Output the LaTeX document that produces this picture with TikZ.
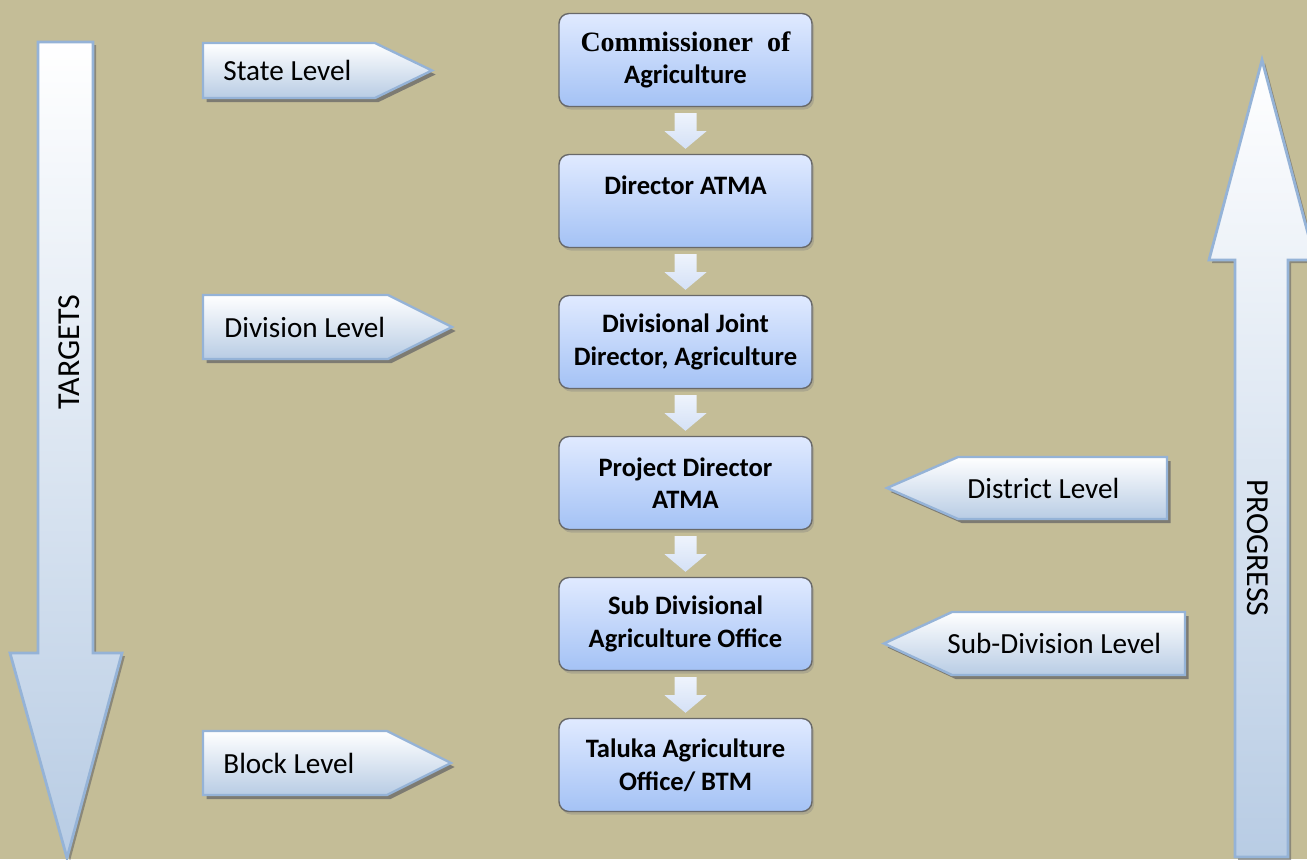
\documentclass[tikz,border=0pt]{standalone}
\usepackage{fontspec}
\setmainfont{Carlito}
\newfontfamily\serifbold{Liberation Serif}
\usepackage{tikz}
\usetikzlibrary{positioning,shadows,calc}

\definecolor{bgtan}{RGB}{196,189,151}
\definecolor{tagline}{RGB}{149,179,215}
\definecolor{tagblue}{RGB}{184,204,228}
\definecolor{boxtop}{RGB}{224,234,255}
\definecolor{boxbottom}{RGB}{164,194,245}
\definecolor{boxline}{RGB}{105,105,105}
\definecolor{flowlight}{RGB}{238,243,252}
\definecolor{flowblue}{RGB}{212,225,246}

\begin{document}
\begin{tikzpicture}[
    x=0.5pt, y=-0.5pt,
    node distance=70.5pt,
    office/.style={
		rectangle,
		rounded corners=5pt,
		draw=boxline,
		line width=0.7pt,
		top color=boxtop,
		bottom color=boxbottom,
		drop shadow={shadow xshift=1pt, shadow yshift=-1.5pt, opacity=0.35},
		minimum width=126.5pt,
		minimum height=46.5pt,
		inner sep=0pt,
		align=center,
		font=\fontsize{13.3}{16.3}\selectfont\bfseries
	},
	tagshape/.style={
		draw=tagline,
		line width=1.2pt,
		top color=white,
		bottom color=tagblue,
		drop shadow={shadow xshift=1.8pt, shadow yshift=-2pt, opacity=0.75, fill=black!60}
	},
	taglabel/.style={
		anchor=west,
		inner sep=0pt,
		font=\fontsize{14.6}{17}\selectfont
	},
	bigarrow/.style={
		draw=tagline,
		line width=1.4pt,
		top color=white,
		bottom color=tagblue,
		drop shadow={shadow xshift=1.5pt, shadow yshift=-1.5pt, opacity=0.6, fill=black!60}
	},
	bigtext/.style={
		inner sep=0pt,
		font=\fontsize{16}{18}\selectfont
	},
	flowarrow/.style={
		top color=flowlight,
		bottom color=flowblue
	}
  ]
  \fill[bgtan] (0,0) rectangle (1307,859);
  \useasboundingbox (0,0) rectangle (1307,859);
  \clip (0,0) rectangle (1307,859);

  % the two big arrows at the sides
  \path[bigarrow] (38,42) -- (93,42) -- (93,653) -- (122,653) -- (67,858)
    -- (10,653) -- (38,653) -- cycle;
  \path[bigarrow] (1262,60) -- (1315,260) -- (1288,260) -- (1288,857)
    -- (1235,857) -- (1235,260) -- (1209,260) -- cycle;
  \node [bigtext, rotate=90] (targets) at (69,352) {TARGETS};
  \node [bigtext, rotate=-90] (progress) at (1258,548) {PROGRESS};

  % We start by placing the blocks
  \node [office] (commissioner) at (685.5,60)
    {\serifbold\fontsize{14}{14.5}\selectfont Commissioner\ \ of\\Agriculture};
  \node [office, below of=commissioner] (director) {Director ATMA\\~};
  \node [office, below of=director] (divisional) {Divisional Joint\\Director, Agriculture};
  \node [office, below of=divisional] (project) {Project Director\\ATMA};
  \node [office, below of=project] (subdivisional) {Sub Divisional\\Agriculture Office};
  \node [office, below of=subdivisional] (taluka) {Taluka Agriculture\\Office/ BTM};

  \foreach \from/\to in {commissioner/director, director/divisional, divisional/project,
      project/subdivisional, subdivisional/taluka}
    \path [flowarrow] ($(\from.south)+(-11,6)$) -- ($(\from.south)+(11,6)$)
      -- ($(\from.south)+(11,24)$) -- ($(\from.south)+(21,24)$) -- ($(\to.north)+(0,-5)$)
      -- ($(\from.south)+(-21,24)$) -- ($(\from.south)+(-11,24)$) -- cycle;

  % level tags
  \path[tagshape] (203,43) -- (375,43) -- (432,70.5) -- (375,98) -- (203,98) -- cycle;
  \node [taglabel] (state) at (223,70.5) {State Level};
  \path[tagshape] (203,295) -- (388,295) -- (452,327) -- (388,359) -- (203,359) -- cycle;
  \node [taglabel] (division) at (224,327) {Division Level};
  \path[tagshape] (203,731) -- (387,731) -- (451,763) -- (387,795) -- (203,795) -- cycle;
  \node [taglabel] (block) at (223,763) {Block Level};
  \path[tagshape] (887,488) -- (958,457) -- (1167,457) -- (1167,519) -- (958,519) -- cycle;
  \node [taglabel] (district) at (967,488) {District Level};
  \path[tagshape] (884,643.5) -- (952,612) -- (1185,612) -- (1185,675) -- (952,675) -- cycle;
  \node [taglabel] (subdivision) at (947,643.5) {Sub-Division Level};

\end{tikzpicture}
\end{document}
